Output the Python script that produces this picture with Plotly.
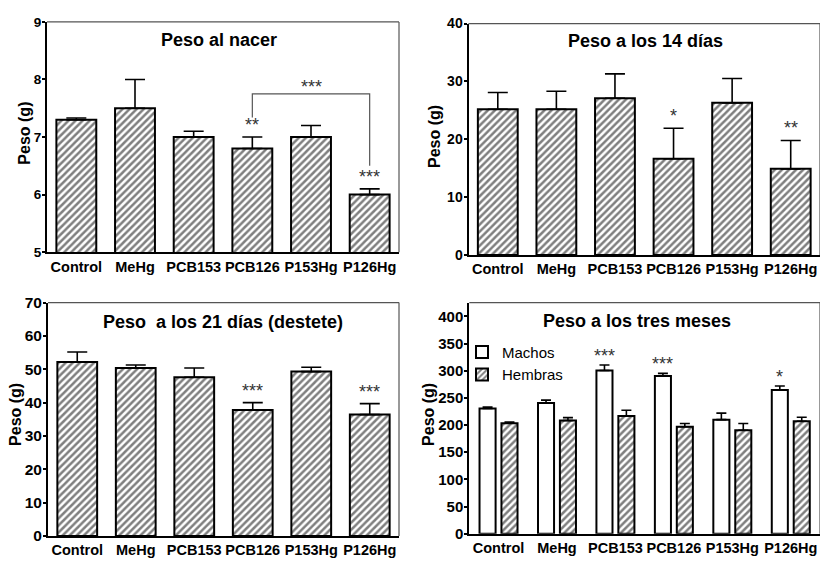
import plotly.graph_objects as go

W, H = 820, 565
FONT = "Liberation Sans, Arial, sans-serif"

categories = ["Control", "MeHg", "PCB153", "PCB126", "P153Hg", "P126Hg"]

# Panel 1: Peso al nacer
birth_mean = [7.3, 7.5, 7.0, 6.8, 7.0, 6.0]
birth_top = [7.33, 8.0, 7.1, 7.0, 7.2, 6.1]
# Panel 2: 14 dias
d14_mean = [25.2, 25.2, 27.1, 16.65, 26.3, 14.9]
d14_top = [28.1, 28.3, 31.3, 21.9, 30.5, 19.8]
# Panel 3: 21 dias
d21_mean = [52.2, 50.4, 47.6, 37.8, 49.3, 36.4]
d21_top = [55.2, 51.3, 50.4, 40.0, 50.6, 39.7]
# Panel 4: tres meses
males_mean = [230.4, 240.5, 300.5, 290.5, 210.0, 264.8]
males_top = [233.0, 246.0, 310.7, 295.2, 222.0, 272.0]
females_mean = [203.6, 208.3, 216.7, 197.0, 190.5, 207.0]
females_top = [205.4, 213.7, 227.4, 203.0, 203.0, 214.3]

titles = ["Peso al nacer", "Peso a los 14 días", "Peso  a los 21 días (destete)", "Peso a los tres meses"]
y_title = "Peso (g)"
legend_names = ["Machos", "Hembras"]

# significance marks: (panel, category, series-top list, label)
stars = [
    (1, "PCB126", birth_top, "**"),
    (1, "P126Hg", birth_top, "***"),
    (2, "PCB126", d14_top, "*"),
    (2, "P126Hg", d14_top, "**"),
    (3, "PCB126", d21_top, "***"),
    (3, "P126Hg", d21_top, "***"),
]
stars_males = [("PCB153", "***"), ("PCB126", "***"), ("P126Hg", "*")]
# bracket in panel 1: from PCB126 to P126Hg
bracket = dict(left="PCB126", right="P126Hg", y_left=7.34, y_top=7.75, y_right=6.5, label="***")

domains = {
    1: ([47 / W, 399 / W], [1 - 250.7 / H, 1 - 13.3 / H]),
    2: ([468.5 / W, 1.0], [1 - 253.7 / H, 1 - 15 / H]),
    3: ([48 / W, 399 / W], [1 - 543.3 / H, 1 - 302.7 / H]),
    4: ([469.3 / W, 1.0], [1 - 541 / H, 1 - 302.7 / H]),
}
ranges = {1: ([5, 9], 1), 2: ([0, 40], 10), 3: ([0, 70], 10), 4: ([0, 425.5], 50)}
ytick_sizes = {1: 13.5, 2: 14, 3: 15.5, 4: 15}

hatch = dict(shape="/", fgcolor="black", bgcolor="white", size=5, solidity=0.5)

fig = go.Figure()


def axes(i):
    return ("x" if i == 1 else f"x{i}"), ("y" if i == 1 else f"y{i}")


def err(mean, top, w):
    return dict(type="data", symmetric=False, array=[t - m for m, t in zip(mean, top)],
                arrayminus=[0] * len(mean), color="black", thickness=1.6, width=w)


for i, (mean, top) in zip([1, 2, 3], [(birth_mean, birth_top), (d14_mean, d14_top), (d21_mean, d21_top)]):
    xa, ya = axes(i)
    fig.add_trace(go.Bar(x=categories, y=mean, xaxis=xa, yaxis=ya, width=0.68,
                         marker=dict(color="white", pattern=hatch, line=dict(color="black", width=2)),
                         error_y=err(mean, top, 10), showlegend=False))

xa, ya = axes(4)
fig.add_trace(go.Bar(x=categories, y=males_mean, xaxis=xa, yaxis=ya, width=0.275, offset=-0.325,
                     name=legend_names[0],
                     marker=dict(color="white", line=dict(color="black", width=2)),
                     error_y=err(males_mean, males_top, 5), showlegend=True))
fig.add_trace(go.Bar(x=categories, y=females_mean, xaxis=xa, yaxis=ya, width=0.275, offset=0.05,
                     name=legend_names[1],
                     marker=dict(color="white", pattern=hatch, line=dict(color="black", width=2)),
                     error_y=err(females_mean, females_top, 5), showlegend=True))

layout = dict(width=W, height=H, margin=dict(l=0, r=0, t=0, b=0),
              paper_bgcolor="white", plot_bgcolor="white", barmode="overlay",
              font=dict(family=FONT, color="black"))
for i in range(1, 5):
    xd, yd = domains[i]
    rng, dt = ranges[i]
    xk = "xaxis" if i == 1 else f"xaxis{i}"
    yk = "yaxis" if i == 1 else f"yaxis{i}"
    xa, ya = axes(i)
    layout[xk] = dict(domain=xd, anchor=ya, type="category", range=[-0.5, 5.5],
                      showline=True, linecolor="black", linewidth=2, showgrid=False,
                      ticks="", ticklen=0,
                      tickfont=dict(family=FONT, size=14.5, weight="bold", color="black"))
    layout[yk] = dict(domain=yd, anchor=xa, range=rng, dtick=dt, tick0=0,
                      showline=True, linecolor="black", linewidth=2, showgrid=False, zeroline=False,
                      ticks="outside", ticklen=3, tickwidth=1.5, tickcolor="black",
                      ticklabelstandoff=-2,
                      tickfont=dict(family=FONT, size=ytick_sizes[i], weight="bold", color="black"))
fig.update_layout(**layout)

# frames (top and right edges, gray)
for i in range(1, 5):
    xa, ya = axes(i)
    fig.add_shape(type="line", xref=f"{xa} domain", yref=f"{ya} domain", x0=0, x1=1, y0=1, y1=1,
                  line=dict(color="#555", width=1.2))
    fig.add_shape(type="line", xref=f"{xa} domain", yref=f"{ya} domain", x0=1, x1=1, y0=0, y1=1,
                  line=dict(color="#555", width=1.2))

# titles
title_pos = [(219, 32), (645, 33), (222.5, 323), (637, 322)]
for t, (px, py) in zip(titles, title_pos):
    fig.add_annotation(text=t, x=px / W, y=1 - py / H, xref="paper", yref="paper", showarrow=False,
                       xanchor="center", yanchor="middle",
                       font=dict(family=FONT, size=18, weight="bold", color="black"))

# y-axis titles
ytitle_pos = [(24.5, 128), (434, 132), (15.5, 418), (428.5, 418)]
for px, py in ytitle_pos:
    fig.add_annotation(text=y_title, x=px / W, y=1 - py / H, xref="paper", yref="paper", showarrow=False,
                       xanchor="center", yanchor="middle", textangle=-90,
                       font=dict(family=FONT, size=16, weight="bold", color="black"))

star_font = dict(family=FONT, size=18, color="#333")
for p, cat, tops, lab in stars:
    xa, ya = axes(p)
    fig.add_annotation(text=lab, x=cat, y=tops[categories.index(cat)], xref=xa, yref=ya,
                       showarrow=False, yanchor="bottom", yshift=0, font=star_font)
xa, ya = axes(4)
for cat, lab in stars_males:
    k = categories.index(cat)
    fig.add_annotation(text=lab, x=k - 0.1875, y=males_top[k], xref=xa, yref=ya,
                       showarrow=False, yanchor="bottom", yshift=-3, font=star_font)

# bracket
xl, xr = categories.index(bracket["left"]), categories.index(bracket["right"])
fig.add_shape(type="path", xref="x", yref="y",
              path=f"M {xl},{bracket['y_left']} L {xl},{bracket['y_top']} L {xr},{bracket['y_top']} L {xr},{bracket['y_right']}",
              line=dict(color="#555", width=1.2))
fig.add_annotation(text=bracket["label"], x=(xl + xr) / 2, y=bracket["y_top"], xref="x", yref="y",
                   showarrow=False, yanchor="bottom", yshift=-5, font=star_font)

fig.update_layout(legend=dict(x=462 / W, y=1 - 337 / H, xanchor="left", yanchor="top",
                              bgcolor="rgba(0,0,0,0)", font=dict(family=FONT, size=15, color="black"),
                              itemwidth=30, tracegroupgap=0))

fig.write_html("out.html")
